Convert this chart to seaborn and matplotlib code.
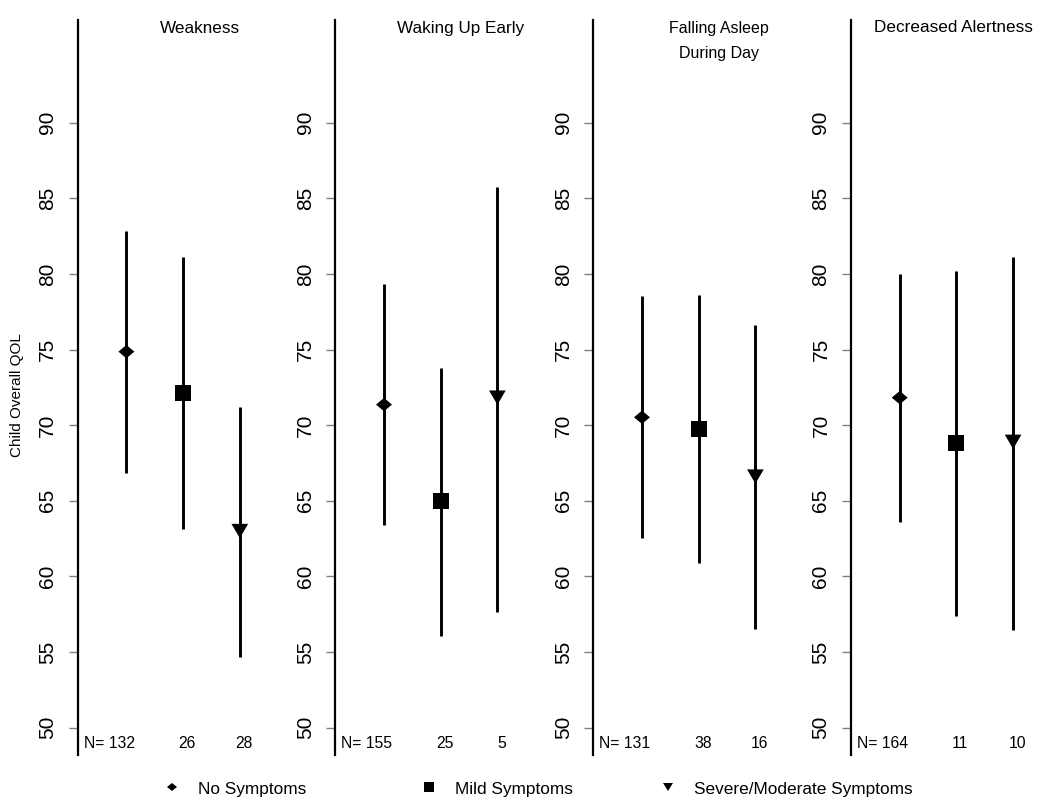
import numpy as np
import pandas as pd
import matplotlib
matplotlib.use("Agg")
import matplotlib.pyplot as plt
import seaborn as sns
from matplotlib.lines import Line2D
from matplotlib.markers import MarkerStyle
from matplotlib.transforms import Affine2D

# ---------------- data ----------------
panels = ["Weakness", "Waking Up Early", "Falling Asleep\nDuring Day", "Decreased Alertness"]
groups = ["No Symptoms", "Mild Symptoms", "Severe/Moderate Symptoms"]

mean_weakness = [74.86, 72.15, 63.0]
lower_weakness = [66.86, 63.16, 54.69]
upper_weakness = [82.84, 81.10, 71.22]
n_weakness = [132, 26, 28]

mean_waking = [71.36, 64.98, 71.82]
lower_waking = [63.38, 56.06, 57.63]
upper_waking = [79.32, 73.80, 85.77]
n_waking = [155, 25, 5]

mean_falling = [70.52, 69.75, 66.60]
lower_falling = [62.52, 60.91, 56.50]
upper_falling = [78.54, 78.61, 76.60]
n_falling = [131, 38, 16]

mean_alert = [71.82, 68.82, 68.90]
lower_alert = [63.60, 57.40, 56.46]
upper_alert = [80.00, 80.21, 81.10]
n_alert = [164, 11, 10]

yticks = [50, 55, 60, 65, 70, 75, 80, 85, 90]
ylabel = "Child Overall QOL"

means = [mean_weakness, mean_waking, mean_falling, mean_alert]
lowers = [lower_weakness, lower_waking, lower_falling, lower_alert]
uppers = [upper_weakness, upper_waking, upper_falling, upper_alert]
ns = [n_weakness, n_waking, n_falling, n_alert]

rows = []
for p, title in enumerate(panels):
    for g, grp in enumerate(groups):
        rows.append(dict(panel=title, group=grp, pos=g + 1,
                         mean=means[p][g], lo=lowers[p][g], hi=uppers[p][g], n=ns[p][g]))
df = pd.DataFrame(rows)

# ---------------- style ----------------
sns.set_style("white")
plt.rcParams["font.family"] = ["Liberation Sans", "DejaVu Sans"]
plt.rcParams["text.color"] = "black"
plt.rcParams["axes.labelcolor"] = "black"
plt.rcParams["ytick.color"] = "black"

W, H = 1050, 811
fig = plt.figure(figsize=(W / 100, H / 100), dpi=100)

def fx(px):
    return px / W

def fy(py):
    return 1 - py / H

axis_left_px = [77.7, 335.3, 593.3, 851.0]
ax_width_px = 195
unit_px = 56.7
first_off_px = 48.7
xmin = 1 - first_off_px / unit_px
xmax = xmin + ax_width_px / unit_px
ymin, ymax = 48.19, 96.79

diamond = MarkerStyle("D", transform=Affine2D().scale(1.0, 0.84))
tri_down = MarkerStyle("v", transform=Affine2D().scale(1.0, 0.86))
marker_map = {groups[0]: diamond, groups[1]: "s", groups[2]: tri_down}
size_map = {groups[0]: 66, groups[1]: 132, groups[2]: 144}

title_pos = [(199.5, 32.7), (460.5, 32.7), (719.0, 33.3), (953.5, 32.3)]
title_size = [12.3, 12.3, 11.5, 12.3]

for p, title in enumerate(panels):
    ax = fig.add_axes([fx(axis_left_px[p]), fy(755), fx(ax_width_px), (755 - 20) / H])
    sub = df[df.panel == title]
    ax.vlines(sub["pos"], sub["lo"], sub["hi"], color="black", lw=2.1, zorder=2)
    sns.scatterplot(data=sub, x="pos", y="mean", style="group", markers=marker_map,
                    size="group", sizes=size_map, color="black", linewidth=0,
                    legend=False, ax=ax, zorder=3)
    ax.set_xlim(xmin, xmax)
    ax.set_ylim(ymin, ymax)
    ax.set_xticks([])
    ax.set_yticks(yticks)
    ax.set_yticklabels([str(t) for t in yticks], fontsize=15)
    ax.tick_params(axis="y", labelrotation=90, length=6.8, width=1.0,
                   color="#808080", labelcolor="black", pad=8, left=True)
    for lab in ax.get_yticklabels():
        lab.set_va("center")
    ax.set_xlabel("")
    ax.set_ylabel("")
    for s in ["top", "right", "bottom"]:
        ax.spines[s].set_visible(False)
    ax.spines["left"].set_color("black")
    ax.spines["left"].set_linewidth(1.6)
    ax.patch.set_alpha(0)

    # N labels
    nvals = sub["n"].tolist()
    posv = sub["pos"].tolist()
    ax.text(xmin + 6 / unit_px, 48.68, f"N= {nvals[0]}", ha="left", va="baseline",
            fontsize=11.3, color="black", clip_on=False)
    for k in (1, 2):
        ax.text(posv[k] + 0.07, 48.68, str(nvals[k]), ha="center", va="baseline",
                fontsize=11.3, color="black", clip_on=False)

    # titles
    lines = title.split("\n")
    tx, ty = title_pos[p]
    for li, line in enumerate(lines):
        fig.text(fx(tx), fy(ty + li * 25), line, ha="center", va="baseline",
                 fontsize=title_size[p], color="black")

fig.text(fx(17), fy(395), ylabel, rotation=90, ha="center", va="center",
         fontsize=11, color="black")

# legend, one entry per position
leg_marker_x = [171.7, 429.0, 668.0]
leg_ms = {groups[0]: 5.1, groups[1]: 7.5, groups[2]: 7.4}
leg_fs = 12.4
for g, grp in enumerate(groups):
    h = Line2D([], [], ls="none", marker=marker_map[grp], color="black",
               markersize=leg_ms[grp], markeredgewidth=0)
    anchor = leg_marker_x[g] - 0.5 * leg_fs * 100 / 72
    fig.legend(handles=[h], labels=[grp], loc="center left",
               bbox_to_anchor=(fx(anchor), fy(789)), frameon=False,
               handlelength=1.0, handletextpad=1.0, borderpad=0, borderaxespad=0,
               fontsize=leg_fs, labelcolor="black")

fig.savefig("out.png", dpi=100)
